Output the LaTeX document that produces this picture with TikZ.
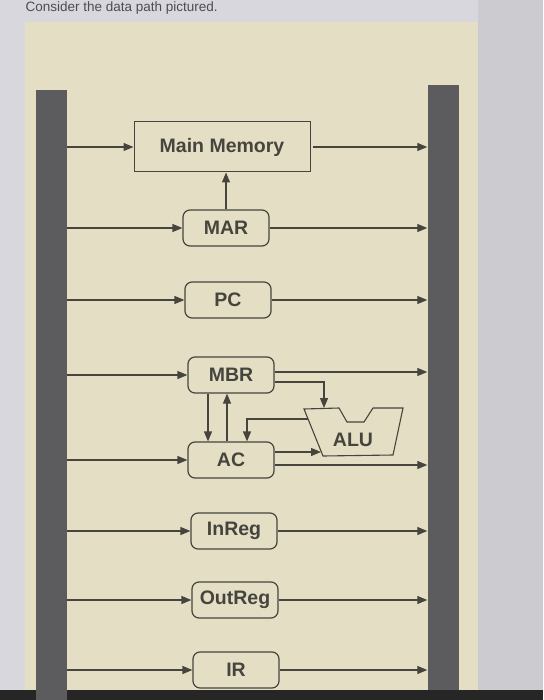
\documentclass[tikz,border=0pt]{standalone}
\usepackage{fontspec}
\setmainfont{Liberation Sans}
\usetikzlibrary{arrows.meta,positioning,calc}
\definecolor{screen}{HTML}{D7D7DD}
\definecolor{margin}{HTML}{CBCBD0}
\definecolor{paper}{HTML}{E3DEC4}
\definecolor{busgray}{HTML}{5C5C5E}
\definecolor{ink}{HTML}{46453D}
\definecolor{qgray}{HTML}{4C4C58}

\begin{document}
\begin{tikzpicture}[x=1pt,y=-1pt,>={Triangle[length=10pt,width=8pt]},
 every node/.style={align=center,font=\fontsize{19.5}{22}\selectfont\bfseries,text=ink},
 reg/.style={draw=ink,line width=1.2pt,rounded corners=7pt,minimum width=86pt,minimum height=36pt,inner sep=0pt},
 mem/.style={draw=ink,line width=1pt,minimum width=176pt,minimum height=50pt,inner sep=0pt},
 bus/.style={fill=busgray,minimum width=31pt,inner sep=0pt},
 wire/.style={draw=ink,line width=1.2pt}]
\useasboundingbox (0,0) rectangle (543,700);
% screen and page
\fill[screen] (0,0) rectangle (543,700);
\fill[margin] (478,0) rectangle (543,700);
\fill[paper] (25,22) rectangle (478,690);
\fill[black!85] (0,690) rectangle (543,700);
\node[anchor=base west,font=\fontsize{13.5}{15}\selectfont,text=qgray] (question) at (22,12) {Consider the data path pictured.};
% buses
\node[bus,minimum height=610pt] (lbus) at (51,395) {};
\node[bus,minimum height=605pt] (rbus) at (443,387.5) {};
% memory and registers
\node[mem] (mm) at (222,147) {Main Memory};
\node[reg] (mar) at (226,228) {MAR};
\node[reg] (pc) at (228,300) {PC};
\node[reg] (mbr) at (231,375) {MBR};
\node[reg] (ac) at (231,460) {AC};
\node[reg] (inreg) at (234,531) {InReg};
\node[reg] (outreg) at (235,600) {OutReg};
\node[reg] (ir) at (236,670) {IR};
% alu
\node (alu) at (353,440) {ALU};
\draw[wire,line width=1.1pt] (304,409) -- (339,408) -- (347,422) -- (364,422) -- (373,408)
 -- (403,408) -- (393,455) -- (323,456) -- cycle;
\coordinate (alua) at (324,408);
\coordinate (alub) at (321,452);
\coordinate (aluo) at (308,419);
% bus to units
\draw[wire,->] (lbus.east |- mm.west) -- (mm.west);
\draw[wire,->] (lbus.east |- mar.west) -- (mar.west);
\draw[wire,->] (lbus.east |- pc.west) -- (pc.west);
\draw[wire,->] (lbus.east |- mbr.west) -- (mbr.west);
\draw[wire,->] (lbus.east |- ac.west) -- (ac.west);
\draw[wire,->] (lbus.east |- inreg.west) -- (inreg.west);
\draw[wire,->] (lbus.east |- outreg.west) -- (outreg.west);
\draw[wire,->] (lbus.east |- ir.west) -- (ir.west);
% units to bus
\draw[wire,->] ([xshift=2pt]mm.east) -- (rbus.west |- mm.east);
\draw[wire,->] (mar.east) -- (rbus.west |- mar.east);
\draw[wire,->] (pc.east) -- (rbus.west |- pc.east);
\draw[wire,->] ([yshift=3pt]mbr.east) -- ($(rbus.west |- mbr.east)+(0,-3)$);
\draw[wire,->] ([yshift=-5pt]ac.east) -- ($(rbus.west |- ac.east)+(0,5)$);
\draw[wire,->] (inreg.east) -- (rbus.west |- inreg.east);
\draw[wire,->] (outreg.east) -- (rbus.west |- outreg.east);
\draw[wire,->] (ir.east) -- (rbus.west |- ir.east);
% internal paths
\draw[wire,->] (mar.north) -- (mar.north |- mm.south);
\draw[wire,->] ([yshift=-7pt]mbr.east) -| (alua);
\draw[wire,->] ([xshift=-23pt]mbr.south) -- ([xshift=-23pt]ac.north);
\draw[wire,->] ([xshift=-4pt]ac.north) -- ([xshift=-4pt]mbr.south);
\draw[wire,->] (aluo) -| ([xshift=16pt]ac.north);
\draw[wire,->] ([yshift=8pt]ac.east) -- (alub);
\end{tikzpicture}
\end{document}
